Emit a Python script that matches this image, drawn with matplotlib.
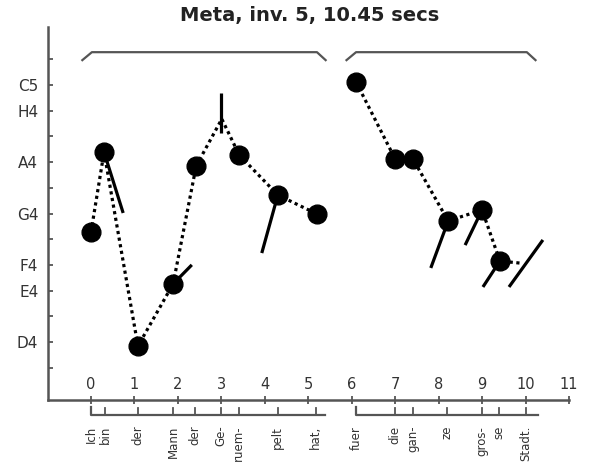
import matplotlib
matplotlib.use('Agg')
import matplotlib.pyplot as plt

# pitch contour of the two phrases (x: syllable time in secs, y: semitones, MIDI)
phrase1_x = [0.0, 0.30, 1.08, 1.89, 2.42, 3.01, 3.41, 4.30, 5.20]
phrase1_y = [66.28, 69.39, 61.84, 64.26, 68.85, 70.68, 69.28, 67.72, 66.98]
phrase1_dots = [0, 1, 2, 3, 4, 6, 7, 8]
phrase2_x = [6.10, 7.00, 7.41, 8.22, 9.00, 9.41, 9.87]
phrase2_y = [72.12, 69.12, 69.12, 66.71, 67.14, 65.15, 65.07]
phrase2_dots = [0, 1, 2, 3, 4, 5]

# glides (start x, end x, start y, end y)
glide_x0 = [0.30, 1.89, 2.99, 4.30, 8.22, 9.00, 9.41, 9.62]
glide_x1 = [0.74, 2.32, 2.99, 3.93, 7.82, 8.61, 9.02, 10.40]
glide_y0 = [69.39, 64.26, 71.69, 67.72, 66.71, 67.14, 65.15, 64.14]
glide_y1 = [67.02, 65.00, 70.13, 65.46, 64.88, 65.77, 64.14, 65.97]

# phrase brackets
phrase_start = [0.02, 6.10]
phrase_end = [5.20, 10.03]

# syllables
syl1 = ['Ich', 'bin', 'der', 'Mann', 'der', 'Ge-', 'ruem-', 'pelt', 'hat,']
syl1_x = [0.0, 0.32, 1.08, 1.89, 2.39, 2.99, 3.40, 4.30, 5.17]
syl2 = ['fuer', 'die', 'gan-', 'ze', 'gros-', 'se', 'Stadt.']
syl2_x = [6.11, 6.99, 7.40, 8.19, 8.99, 9.38, 10.0]
syl_line_end = [5.38, 10.28]

pitch_ticks = list(range(61, 74))
pitch_names = {72: 'C5', 71: 'H4', 69: 'A4', 67: 'G4', 65: 'F4', 64: 'E4', 62: 'D4'}
time_ticks = list(range(0, 12))

axis_col = '#555555'

fig = plt.figure(figsize=(5.9, 4.68), dpi=100)
ax = fig.add_axes([48 / 590, 68 / 468, 534 / 590, 373 / 468])
ax.set_xlim(-0.99, 11.3)
ax.set_ylim(59.74, 74.26)

for s in ['top', 'right']:
    ax.spines[s].set_visible(False)
for s in ['left', 'bottom']:
    ax.spines[s].set_color(axis_col)
    ax.spines[s].set_linewidth(1.8)
ax.spines['bottom'].set_bounds(-0.99, 11)

ax.set_yticks(pitch_ticks)
ax.set_yticklabels([pitch_names.get(p, '') for p in pitch_ticks])
ax.tick_params(axis='y', direction='in', length=3.5, width=1.3, color=axis_col,
               pad=7, labelsize=11, labelcolor='#333333')
ax.set_xticks(time_ticks)
ax.set_xticklabels([str(t) for t in time_ticks])
ax.tick_params(axis='x', direction='inout', length=6, width=1.3, color=axis_col,
               pad=-19.5, labelsize=10.5, labelcolor='#333333')

# contour
for xs, ys, dots in [(phrase1_x, phrase1_y, phrase1_dots), (phrase2_x, phrase2_y, phrase2_dots)]:
    ax.plot(xs, ys, color='black', lw=2.3, linestyle=(0, (1, 1.1)))
    ax.plot([xs[i] for i in dots], [ys[i] for i in dots], 'o', color='black',
            markersize=13.5, zorder=3)

for x0, x1, y0, y1 in zip(glide_x0, glide_x1, glide_y0, glide_y1):
    ax.plot([x0, x1], [y0, y1], color='black', lw=2.3, solid_capstyle='butt', zorder=3)

# brackets above the phrases
for a, b in zip(phrase_start, phrase_end):
    ax.plot([a - 0.22, a, b, b + 0.2], [72.97, 73.28, 73.28, 72.97],
            color=axis_col, lw=1.6, clip_on=False)

# syllable axis below the time axis
tr = ax.get_xaxis_transform()
for names, xs, end in [(syl1, syl1_x, syl_line_end[0]), (syl2, syl2_x, syl_line_end[1])]:
    ax.plot([xs[0], xs[0], end], [-0.019, -0.040, -0.040], color=axis_col, lw=1.6,
            transform=tr, clip_on=False)
    for name, x in zip(names, xs):
        if x != xs[0]:
            ax.plot([x, x], [-0.021, -0.040], color=axis_col, lw=1.3,
                    transform=tr, clip_on=False)
        ax.text(x, -0.069, name, rotation=90, ha='center', va='top', fontsize=8.5,
                color='#333333', transform=tr)

fig.text(310 / 590, 1 - 15 / 468, 'Meta, inv. 5, 10.45 secs', ha='center', va='center',
         fontsize=14, fontweight='bold', color='#222222')

fig.savefig('out.png', dpi=100)
